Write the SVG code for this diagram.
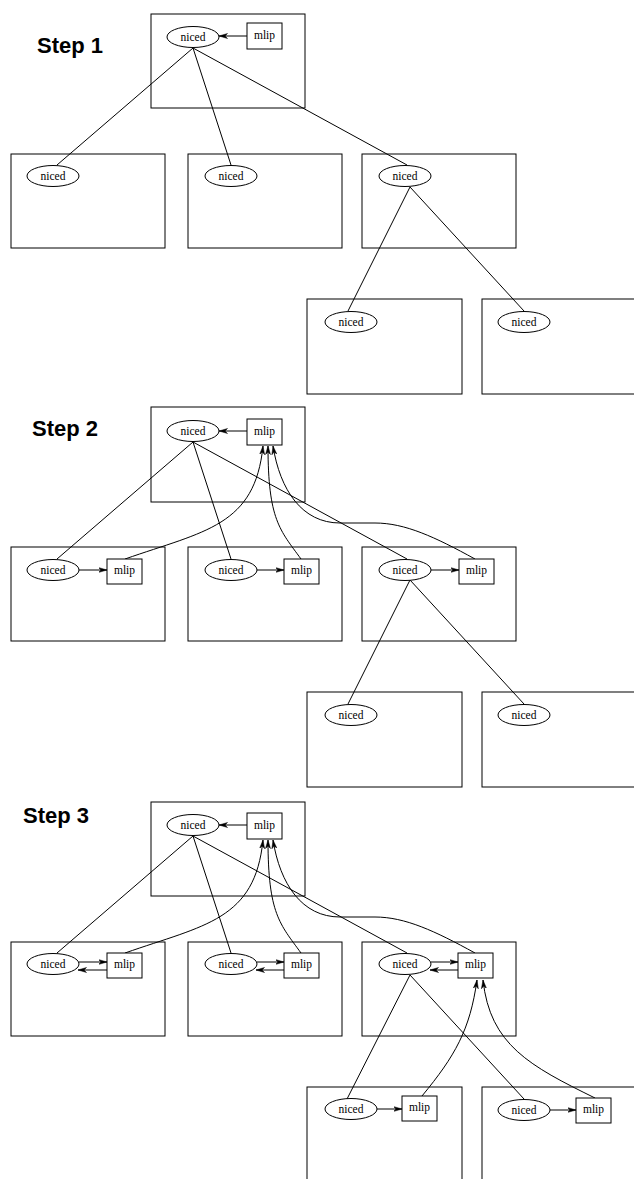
<svg xmlns="http://www.w3.org/2000/svg" width="634" height="1179" viewBox="0 0 634 1179">
<style>
.box{fill:none;stroke:#000;stroke-width:1}
.el{fill:#fff;stroke:#000;stroke-width:1}
.ml{fill:#fff;stroke:#000;stroke-width:1}
.t{font-family:"Liberation Serif",serif;font-size:11.5px;text-anchor:middle}
.lbl{font-family:"Liberation Sans",Arial,sans-serif;font-size:22px;font-weight:bold}
.c{fill:none;stroke:#000;stroke-width:1}
.a{fill:none;stroke:#000;stroke-width:1;marker-end:url(#ah)}
</style>
<defs>
<marker id="ah" markerWidth="9" markerHeight="6" refX="8.5" refY="3" orient="auto" markerUnits="userSpaceOnUse">
<path d="M0,0.5 L8.5,3 L0,5.5 L2.5,3 Z" fill="#000" stroke="#000" stroke-width="0.5"/>
</marker>
</defs>
<rect width="634" height="1179" fill="#fff"/>

<!-- STEP 1 -->
<g id="step1">
<text class="lbl" x="37" y="53">Step 1</text>
<g id="s1-top"><rect class="box" x="151" y="14" width="154" height="94"/></g>
<g id="s1-l"><rect class="box" x="11" y="154" width="154" height="94"/></g>
<g id="s1-m"><rect class="box" x="188" y="154" width="154" height="94"/></g>
<g id="s1-r"><rect class="box" x="362" y="154" width="154" height="94"/></g>
<g id="s1-bl"><rect class="box" x="307" y="299" width="155" height="95"/></g>
<g id="s1-br"><rect class="box" x="482" y="299" width="160" height="95"/></g>
<g id="s1-edges">
<line class="c" x1="193" y1="48" x2="57" y2="165"/>
<line class="c" x1="193" y1="48" x2="231" y2="165"/>
<line class="c" x1="193" y1="48" x2="407" y2="165"/>
<line class="c" x1="410" y1="187" x2="348" y2="311"/>
<line class="c" x1="410" y1="187" x2="524" y2="311"/>
<line class="a" x1="247" y1="36" x2="219" y2="36"/>
</g>
<g id="s1-top-niced"><ellipse class="el" cx="193" cy="37" rx="26" ry="10.5"/><text class="t" x="193" y="41">niced</text></g>
<g id="s1-top-mlip"><rect class="ml" x="247" y="23" width="35" height="26"/><text class="t" x="264.5" y="39">mlip</text></g>
<g id="s1-l-niced"><ellipse class="el" cx="53" cy="176" rx="26" ry="10.5"/><text class="t" x="53" y="180">niced</text></g>
<g id="s1-m-niced"><ellipse class="el" cx="231" cy="176" rx="26" ry="10.5"/><text class="t" x="231" y="180">niced</text></g>
<g id="s1-r-niced"><ellipse class="el" cx="405" cy="176" rx="26" ry="10.5"/><text class="t" x="405" y="180">niced</text></g>
<g id="s1-bl-niced"><ellipse class="el" cx="351" cy="322" rx="26" ry="10.5"/><text class="t" x="351" y="326">niced</text></g>
<g id="s1-br-niced"><ellipse class="el" cx="524" cy="322" rx="26" ry="10.5"/><text class="t" x="524" y="326">niced</text></g>
</g>

<!-- STEP 2 -->
<g id="step2">
<text class="lbl" x="32" y="436">Step 2</text>
<g id="s2-top"><rect class="box" x="151" y="407" width="154" height="95"/></g>
<g id="s2-l"><rect class="box" x="11" y="547" width="154" height="94"/></g>
<g id="s2-m"><rect class="box" x="188" y="547" width="154" height="94"/></g>
<g id="s2-r"><rect class="box" x="362" y="547" width="154" height="94"/></g>
<g id="s2-bl"><rect class="box" x="307" y="692" width="155" height="95"/></g>
<g id="s2-br"><rect class="box" x="482" y="692" width="160" height="95"/></g>
<g id="s2-edges">
<line class="c" x1="193" y1="442" x2="57" y2="559"/>
<line class="c" x1="193" y1="442" x2="231" y2="559"/>
<line class="c" x1="193" y1="442" x2="407" y2="559"/>
<line class="c" x1="410" y1="580" x2="348" y2="704"/>
<line class="c" x1="410" y1="580" x2="524" y2="704"/>
<line class="a" x1="247" y1="431" x2="219" y2="431"/>
<line class="a" x1="79" y1="570" x2="107" y2="570"/>
<line class="a" x1="257" y1="570" x2="284" y2="570"/>
<line class="a" x1="431" y1="570" x2="459" y2="570"/>
<path class="a" d="M125,559 C205,531 255,526 263,446"/>
<path class="a" d="M301,559 C280,530 268,520 268,446"/>
<path class="a" d="M475,559 C435,537 405,523 375,523 L340,523 C302,523 280,490 273,446"/>
</g>
<g id="s2-top-niced"><ellipse class="el" cx="193" cy="431" rx="26" ry="10.5"/><text class="t" x="193" y="435">niced</text></g>
<g id="s2-top-mlip"><rect class="ml" x="247" y="419" width="35" height="26"/><text class="t" x="264.5" y="435">mlip</text></g>
<g id="s2-l-niced"><ellipse class="el" cx="53" cy="570" rx="26" ry="10.5"/><text class="t" x="53" y="574">niced</text></g>
<g id="s2-l-mlip"><rect class="ml" x="107" y="559" width="35" height="25"/><text class="t" x="124.5" y="574">mlip</text></g>
<g id="s2-m-niced"><ellipse class="el" cx="231" cy="570" rx="26" ry="10.5"/><text class="t" x="231" y="574">niced</text></g>
<g id="s2-m-mlip"><rect class="ml" x="284" y="559" width="35" height="25"/><text class="t" x="301.5" y="574">mlip</text></g>
<g id="s2-r-niced"><ellipse class="el" cx="405" cy="570" rx="26" ry="10.5"/><text class="t" x="405" y="574">niced</text></g>
<g id="s2-r-mlip"><rect class="ml" x="459" y="559" width="35" height="25"/><text class="t" x="476.5" y="574">mlip</text></g>
<g id="s2-bl-niced"><ellipse class="el" cx="351" cy="715" rx="26" ry="10.5"/><text class="t" x="351" y="719">niced</text></g>
<g id="s2-br-niced"><ellipse class="el" cx="524" cy="715" rx="26" ry="10.5"/><text class="t" x="524" y="719">niced</text></g>
</g>

<!-- STEP 3 -->
<g id="step3">
<text class="lbl" x="23" y="823">Step 3</text>
<g id="s3-top"><rect class="box" x="151" y="802" width="154" height="94"/></g>
<g id="s3-l"><rect class="box" x="11" y="942" width="154" height="94"/></g>
<g id="s3-m"><rect class="box" x="188" y="942" width="154" height="94"/></g>
<g id="s3-r"><rect class="box" x="362" y="942" width="154" height="94"/></g>
<g id="s3-bl"><rect class="box" x="307" y="1087" width="155" height="100"/></g>
<g id="s3-br"><rect class="box" x="482" y="1087" width="160" height="100"/></g>
<g id="s3-edges">
<line class="c" x1="193" y1="836" x2="57" y2="953"/>
<line class="c" x1="193" y1="836" x2="231" y2="953"/>
<line class="c" x1="193" y1="836" x2="407" y2="953"/>
<line class="c" x1="410" y1="975" x2="347" y2="1099"/>
<line class="c" x1="410" y1="975" x2="524" y2="1099"/>
<line class="a" x1="247" y1="825" x2="219" y2="825"/>
<line class="a" x1="79" y1="962" x2="107" y2="962"/>
<line class="a" x1="107" y1="970" x2="78" y2="970"/>
<line class="a" x1="257" y1="962" x2="284" y2="962"/>
<line class="a" x1="284" y1="970" x2="256" y2="970"/>
<line class="a" x1="431" y1="962" x2="458" y2="962"/>
<line class="a" x1="458" y1="970" x2="430" y2="970"/>
<line class="a" x1="377" y1="1109" x2="402" y2="1109"/>
<line class="a" x1="550" y1="1110" x2="576" y2="1110"/>
<path class="a" d="M125,953 C205,925 255,920 263,840"/>
<path class="a" d="M301,953 C280,924 268,914 268,840"/>
<path class="a" d="M475,953 C435,931 405,917 375,917 L340,917 C302,917 280,884 273,840"/>
<path class="a" d="M422,1096 C455,1056 470,1030 477,980"/>
<path class="a" d="M595,1098 C530,1066 490,1045 483,980"/>
</g>
<g id="s3-top-niced"><ellipse class="el" cx="193" cy="825" rx="26" ry="10.5"/><text class="t" x="193" y="829">niced</text></g>
<g id="s3-top-mlip"><rect class="ml" x="247" y="813" width="35" height="26"/><text class="t" x="264.5" y="829">mlip</text></g>
<g id="s3-l-niced"><ellipse class="el" cx="53" cy="964" rx="26" ry="10.5"/><text class="t" x="53" y="968">niced</text></g>
<g id="s3-l-mlip"><rect class="ml" x="107" y="953" width="35" height="25"/><text class="t" x="124.5" y="968">mlip</text></g>
<g id="s3-m-niced"><ellipse class="el" cx="231" cy="964" rx="26" ry="10.5"/><text class="t" x="231" y="968">niced</text></g>
<g id="s3-m-mlip"><rect class="ml" x="284" y="953" width="35" height="25"/><text class="t" x="301.5" y="968">mlip</text></g>
<g id="s3-r-niced"><ellipse class="el" cx="405" cy="964" rx="26" ry="10.5"/><text class="t" x="405" y="968">niced</text></g>
<g id="s3-r-mlip"><rect class="ml" x="458" y="953" width="35" height="25"/><text class="t" x="475.5" y="968">mlip</text></g>
<g id="s3-bl-niced"><ellipse class="el" cx="351" cy="1109" rx="26" ry="10.5"/><text class="t" x="351" y="1113">niced</text></g>
<g id="s3-bl-mlip"><rect class="ml" x="402" y="1096" width="35" height="25"/><text class="t" x="419.5" y="1111">mlip</text></g>
<g id="s3-br-niced"><ellipse class="el" cx="524" cy="1110" rx="26" ry="10.5"/><text class="t" x="524" y="1114">niced</text></g>
<g id="s3-br-mlip"><rect class="ml" x="576" y="1098" width="35" height="25"/><text class="t" x="593.5" y="1113">mlip</text></g>
</g>
</svg>
